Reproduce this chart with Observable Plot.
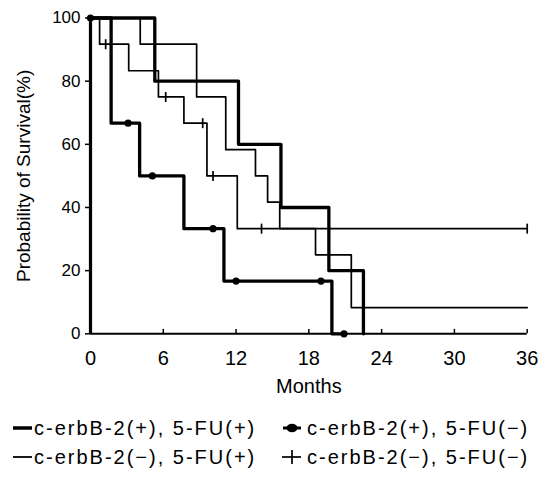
<!DOCTYPE html>
<html><head><meta charset="utf-8">
<script src="https://cdn.jsdelivr.net/npm/d3@7"></script>
<script src="https://cdn.jsdelivr.net/npm/@observablehq/plot@0.6"></script>
<style>
body{margin:0;background:#fff;font-family:"Liberation Sans",Arial,sans-serif;}
#wrap{position:relative;width:548px;height:481px;background:#fff;}
.leg{position:absolute;height:24px;display:flex;align-items:center;white-space:nowrap;color:#000;}
.leg span{font-size:20px;letter-spacing:2px;line-height:24px;}
</style></head><body><div id="wrap"></div>
<script>
const seriesNames = ["c-erbB-2(+), 5-FU(+)", "c-erbB-2(+), 5-FU(−)", "c-erbB-2(−), 5-FU(+)", "c-erbB-2(−), 5-FU(−)"];
// c-erbB-2(+), 5-FU(+)
const monthsA = [0, 5.3, 12.2, 15.7, 19.65, 22.5];
const survA = [100, 80, 60, 40, 20, 0];
// c-erbB-2(+), 5-FU(−)
const monthsB = [0, 1.7, 4.05, 7.7, 11.0, 19.9, 20.9];
const survB = [100, 66.7, 50, 33.3, 16.7, 0, 0];
const censorMonthsB = [0, 3.1, 5.1, 10.1, 12.0, 19.0, 20.9];
const censorSurvB = [100, 66.7, 50, 33.3, 16.7, 16.7, 0];
// c-erbB-2(−), 5-FU(+)
const monthsC = [0, 4.1, 8.75, 11.15, 13.6, 14.6, 15.6, 18.55, 21.5, 36];
const survC = [100, 91.7, 75, 58.3, 50, 41.7, 33.3, 25, 8.3, 8.3];
// c-erbB-2(−), 5-FU(−)
const monthsD = [0, 0.75, 3.15, 5.6, 7.7, 9.6, 12.1, 36];
const survD = [100, 91.7, 83.3, 75, 66.7, 50, 33.3, 33.3];
const censorMonthsD = [1.25, 6.2, 9.25, 10.1, 14.1, 36];
const censorSurvD = [91.7, 75, 66.7, 50, 33.3, 33.3];

const xTicks = [0, 6, 12, 18, 24, 30, 36];
const yTicks = [0, 20, 40, 60, 80, 100];
const xLabel = "Months";
const yLabel = "Probability of Survival(%)";

const zip = (ms, ss) => ms.map((m, i) => ({month: m, surv: ss[i]}));
const A = zip(monthsA, survA), B = zip(monthsB, survB), C = zip(monthsC, survC), D = zip(monthsD, survD);
const cB = zip(censorMonthsB, censorSurvB), cD = zip(censorMonthsD, censorSurvD);

const vbar = {draw(ctx, size) { const h = Math.sqrt(size / Math.PI); ctx.moveTo(0, -h); ctx.lineTo(0, h); }};

const chart = Plot.plot({
  width: 548, height: 410,
  marginTop: 17.5, marginBottom: 76.7, marginLeft: 90, marginRight: 21.3,
  style: {fontFamily: "'Liberation Sans', Arial, sans-serif", background: "#fff", color: "#000"},
  x: {domain: [0, 36]},
  y: {domain: [0, 100]},
  marks: [
    Plot.axisX(xTicks, {tickSize: 0, tickPadding: 17, fontSize: 20, label: null}),
    Plot.axisY(yTicks, {tickSize: 5, tickPadding: 5, fontSize: 17, label: null, strokeWidth: 1.5}),
    Plot.ruleX(xTicks, {y1: 0, y2: 1.4, strokeWidth: 1.5}),
    Plot.ruleY([0], {x1: 0, x2: 36, strokeWidth: 2}),
    Plot.ruleX([0], {y1: 0, y2: 100, strokeWidth: 3.2}),
    Plot.line(C, {x: "month", y: "surv", curve: "step-after", stroke: "#000", strokeWidth: 1.7}),
    Plot.line(D, {x: "month", y: "surv", curve: "step-after", stroke: "#000", strokeWidth: 1.7}),
    Plot.dot(cD, {x: "month", y: "surv", symbol: vbar, r: 5, stroke: "#000", strokeWidth: 1.7, fill: "none"}),
    Plot.line(A, {x: "month", y: "surv", curve: "step-after", stroke: "#000", strokeWidth: 3.3}),
    Plot.line(B, {x: "month", y: "surv", curve: "step-after", stroke: "#000", strokeWidth: 3.3}),
    Plot.dot(cB, {x: "month", y: "surv", r: 3.6, fill: "#000", stroke: "none"}),
    Plot.text([xLabel], {frameAnchor: "bottom", dy: 59, fontSize: 20}),
    Plot.text([yLabel], {frameAnchor: "left", textAnchor: "middle", dx: -67, rotate: -90, fontSize: 19})
  ]
});
const wrap = document.getElementById("wrap");
wrap.appendChild(chart);

const ns = "http://www.w3.org/2000/svg";
function marker(kind) {
  const s = document.createElementNS(ns, "svg");
  s.setAttribute("width", 21); s.setAttribute("height", 22);
  const add = (tag, attrs) => { const e = document.createElementNS(ns, tag); for (const k in attrs) e.setAttribute(k, attrs[k]); s.appendChild(e); };
  if (kind === 0) add("line", {x1: 0, x2: 19, y1: 11, y2: 11, stroke: "#000", "stroke-width": 3.5});
  if (kind === 1) { add("line", {x1: 1, x2: 19, y1: 11, y2: 11, stroke: "#000", "stroke-width": 3}); add("ellipse", {cx: 10, cy: 11, rx: 5.5, ry: 4.2, fill: "#000"}); }
  if (kind === 2) add("line", {x1: 0, x2: 19, y1: 11, y2: 11, stroke: "#000", "stroke-width": 1.8});
  if (kind === 3) { add("line", {x1: 0, x2: 19, y1: 11, y2: 11, stroke: "#000", "stroke-width": 1.7}); add("line", {x1: 10, x2: 10, y1: 4, y2: 18, stroke: "#000", "stroke-width": 1.7}); }
  return s;
}
const legPos = [[13, 428], [282, 428], [13, 457], [282, 457]];
seriesNames.forEach((name, i) => {
  const d = document.createElement("div");
  d.className = "leg";
  d.style.left = legPos[i][0] + "px";
  d.style.top = (legPos[i][1] - 12) + "px";
  d.appendChild(marker(i));
  const sp = document.createElement("span");
  sp.textContent = name;
  sp.style.marginLeft = (i % 2 ? 4 : 0) + "px";
  d.appendChild(sp);
  wrap.appendChild(d);
});
</script></body></html>
